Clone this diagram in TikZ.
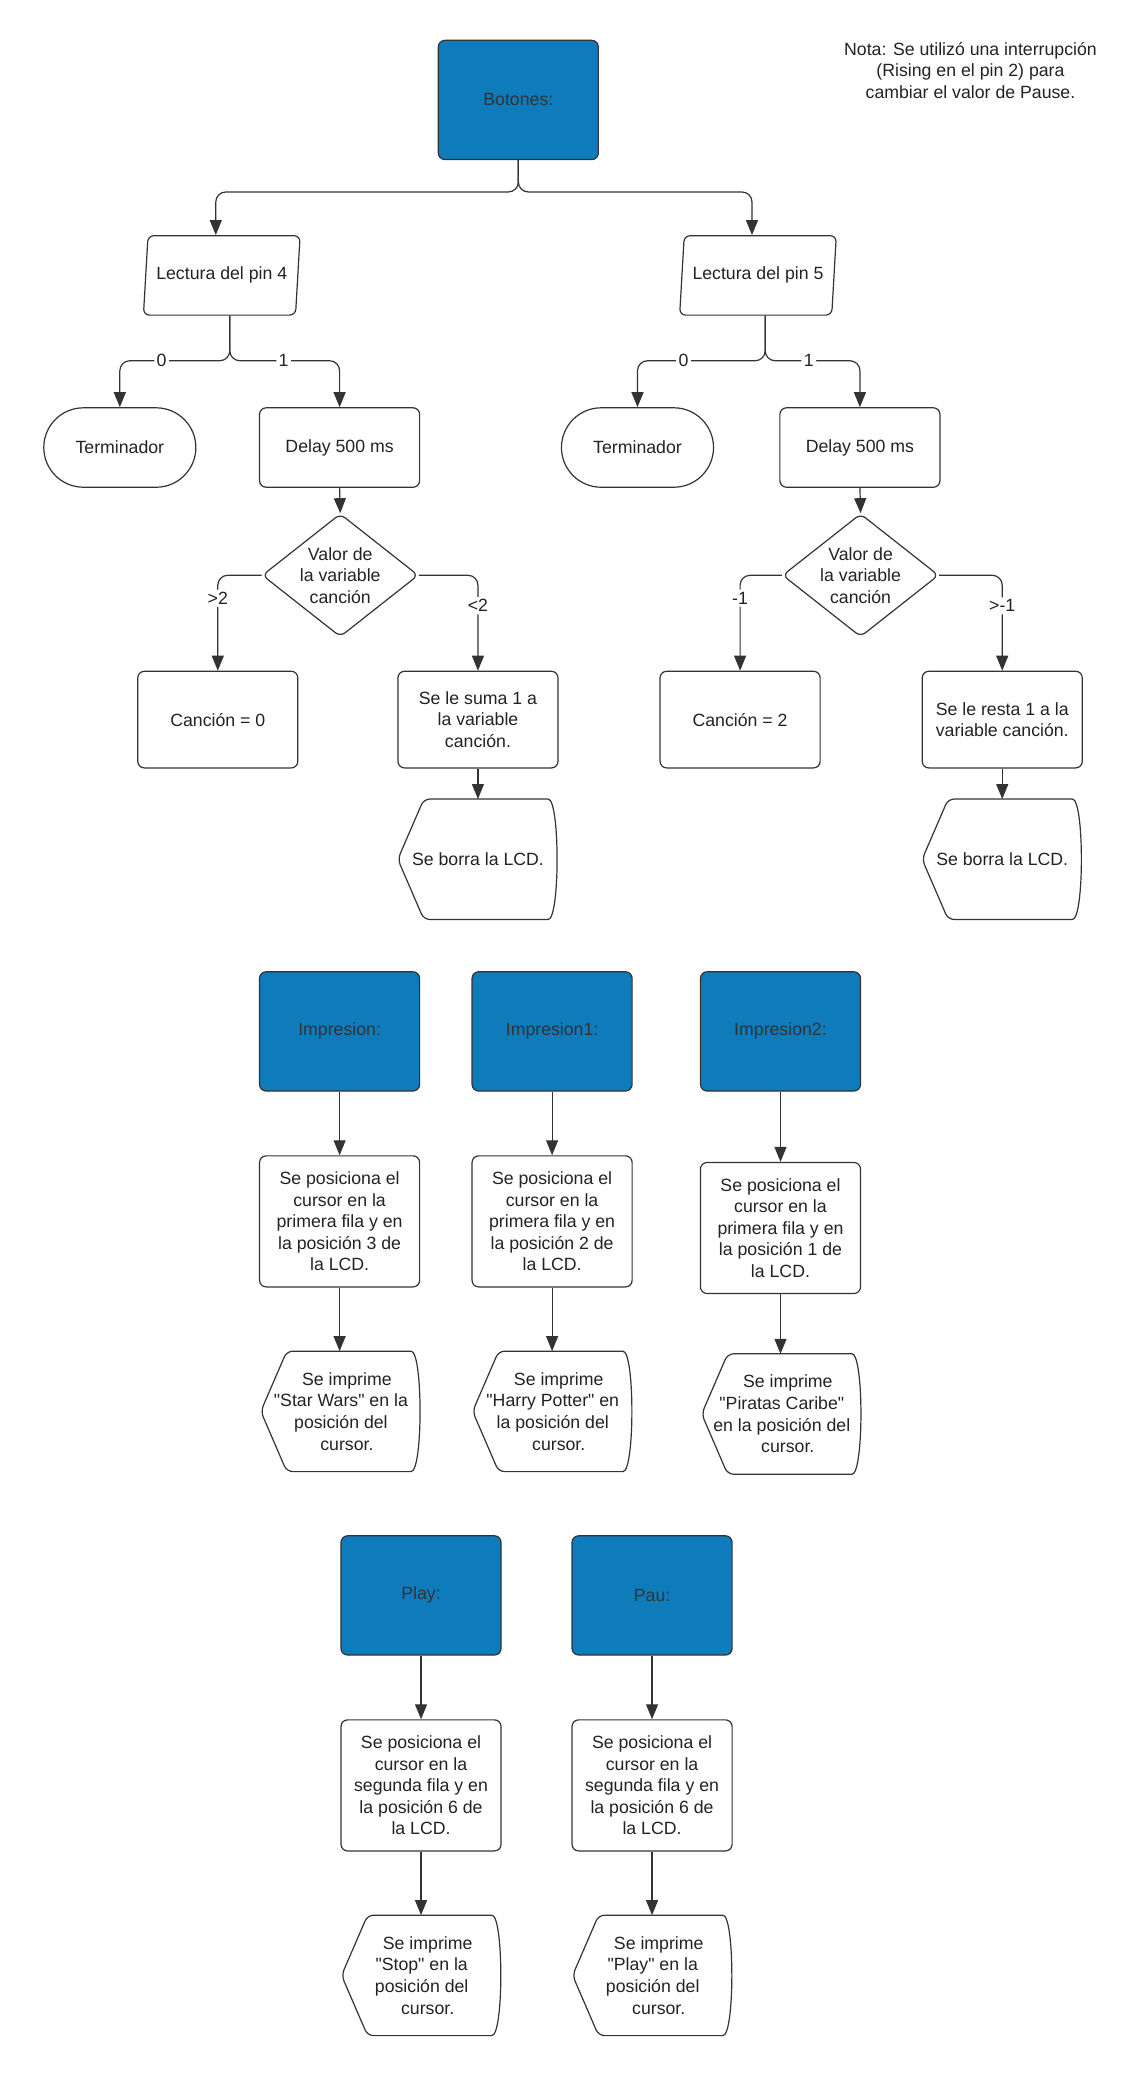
\documentclass[tikz,border=0pt]{standalone}
\usepackage{fontspec}
\setmainfont{Liberation Sans}[Ligatures=TeXOff]
\usetikzlibrary{positioning, arrows.meta, shapes.geometric, shapes.misc, calc}
\definecolor{cHead}{HTML}{0E7BBB}
\definecolor{cLine}{HTML}{333333}
\definecolor{cText}{HTML}{222222}

\tikzset{
  base/.style={draw=cLine, line width=0.6pt, text=cText, align=center,
    font=\fontsize{8.85}{10.8}\selectfont, inner sep=2pt},
  headbox/.style={base, fill=cHead, rounded corners=3.3pt, minimum width=80pt,
    minimum height=59.6pt, text=cLine},
  procbox/.style={base, rounded corners=3.3pt, minimum width=80pt, minimum height=#1},
  procbox/.default=48.3pt,
  iobox/.style={base, trapezium, trapezium left angle=80, trapezium right angle=100,
    trapezium stretches=true, rounded corners=3pt, minimum width=78.7pt, minimum height=39.7pt},
  termbox/.style={base, rounded rectangle, minimum width=80pt, minimum height=39.7pt},
  decbox/.style={base, diamond, aspect=1.27, inner sep=0pt, rounded corners=3pt,
    minimum width=78pt, minimum height=61.5pt},
  dispbox/.style={base, draw=none, minimum width=79.5pt, minimum height=59.6pt},
  conn/.style={draw=cLine, line width=0.6pt, rounded corners=5pt,
    -{Triangle[length=7.5pt,width=6pt]}},
  lbl/.style={fill=white, inner sep=1.2pt, text=cText, align=center,
    font=\fontsize{8.85}{10.8}\selectfont},
}

% outline of a display symbol round a named node
\newcommand{\dispshape}[1]{%
  \draw[draw=cLine, line width=0.6pt, rounded corners=3pt]
    (#1.west) -- ([xshift=13pt]#1.north west) -- ([xshift=-8pt]#1.north east)
    .. controls ([xshift=1pt]#1.north east) and ([xshift=1pt]#1.south east)
    .. ([xshift=-8pt]#1.south east)
    -- ([xshift=13pt]#1.south west) -- cycle;}

\begin{document}
\begin{tikzpicture}[x=0.6617pt, y=-0.6617pt]
\useasboundingbox (0,0) rectangle (860,1568);

% Botones
\node[headbox] (bot) at (391.5,75.5) {Botones:};
\node[lbl, fill=none] (nota) at (733,53)
  {Nota: Se utilizó una interrupción\\(Rising en el pin 2) para\\cambiar el valor de Pause.};

\node[iobox] (lect4) at (167.5,208) {Lectura del pin 4};
\node[iobox] (lect5) at (572.5,208) {Lectura del pin 5};
\draw[conn] (bot.south) -- ++(0,24) -| ([xshift=-3pt]lect4.north);
\draw[conn] (bot.south) -- ++(0,24) -| ([xshift=-3pt]lect5.north);

\node[termbox] (term4) at (90.5,338) {Terminador};
\node[procbox=39.7pt] (del4) at (256.5,338) {Delay 500 ms};
\node[termbox] (term5) at (481.5,338) {Terminador};
\node[procbox=39.7pt] (del5) at (649.5,338) {Delay 500 ms};
\draw[conn] ([xshift=4pt]lect4.south) -- ++(0,34) -| node[lbl, pos=0.31] {0} (term4.north);
\draw[conn] ([xshift=4pt]lect4.south) -- ++(0,34) -| node[lbl, pos=0.245] {1} (del4.north);
\draw[conn] ([xshift=3.6pt]lect5.south) -- ++(0,34) -| node[lbl, pos=0.32] {0} (term5.north);
\draw[conn] ([xshift=3.6pt]lect5.south) -- ++(0,34) -| node[lbl, pos=0.23] {1} (del5.north);

% Valor de la variable
\node[decbox] (dia4) at (257,434.5) {Valor de\\la variable\\canción};
\node[decbox] (dia5) at (650,434.5) {Valor de\\la variable\\canción};
\draw[conn] (del4.south) -- (dia4.north);
\draw[conn] (del5.south) -- (dia5.north);

\node[procbox] (c0) at (164.5,543.5) {Canción = 0};
\node[procbox] (suma) at (361,543.5) {Se le suma 1 a\\la variable\\canción.};
\node[procbox] (c2) at (559,543.5) {Canción = 2};
\node[procbox] (resta) at (757,543.5) {Se le resta 1 a la\\variable canción.};
\draw[conn] (dia4.west) -| node[lbl, pos=0.62] {>2} (c0.north);
\draw[conn] (dia4.east) -| node[lbl, pos=0.66] {<2} (suma.north);
\draw[conn] (dia5.west) -| node[lbl, pos=0.62] {-1} (c2.north);
\draw[conn] (dia5.east) -| node[lbl, pos=0.66] {>-1} (resta.north);

\node[dispbox] (borra4) at (361,649) {Se borra la LCD.};
\node[dispbox] (borra5) at (757,649) {Se borra la LCD.};
\dispshape{borra4}
\dispshape{borra5}
\draw[conn] (suma.south) -- (borra4.north);
\draw[conn] (resta.south) -- (borra5.north);

% Impresion
\node[headbox] (imp0) at (256.5,779) {Impresion:};
\node[headbox] (imp1) at (417,779) {Impresion1:};
\node[headbox] (imp2) at (589.5,779) {Impresion2:};
\node[procbox=65.5pt] (pos0) at (256.5,922.5)
  {Se posiciona el\\cursor en la\\primera fila y en\\la posición 3 de\\la LCD.};
\node[procbox=65.5pt] (pos1) at (417,922.5)
  {Se posiciona el\\cursor en la\\primera fila y en\\la posición 2 de\\la LCD.};
\node[procbox=65.5pt] (pos2) at (589.5,927.5)
  {Se posiciona el\\cursor en la\\primera fila y en\\la posición 1 de\\la LCD.};
\node[dispbox] (prt0) at (257.5,1066)
  {\hspace*{6pt}Se imprime\\"Star Wars" en la\\posición del\\\hspace*{6pt}cursor.};
\node[dispbox] (prt1) at (417.5,1066)
  {\hspace*{6pt}Se imprime\\"Harry Potter" en\\la posición del\\\hspace*{6pt}cursor.};
\node[dispbox] (prt2) at (590.5,1068)
  {\hspace*{6pt}Se imprime\\"Piratas Caribe"\\en la posición del\\\hspace*{6pt}cursor.};
\dispshape{prt0}
\dispshape{prt1}
\dispshape{prt2}
\draw[conn] (imp0.south) -- (pos0.north);
\draw[conn] (imp1.south) -- (pos1.north);
\draw[conn] (imp2.south) -- (pos2.north);
\draw[conn] (pos0.south) -- (pos0.south |- prt0.north);
\draw[conn] (pos1.south) -- (pos1.south |- prt1.north);
\draw[conn] (pos2.south) -- (pos2.south |- prt2.north);

% Play y Pau
\node[headbox] (play) at (318,1205) {Play:};
\node[headbox] (pau) at (492.5,1205) {Pau:};
\node[procbox=65.5pt] (pos3) at (318,1348.5)
  {Se posiciona el\\cursor en la\\segunda fila y en\\la posición 6 de\\la LCD.};
\node[procbox=65.5pt] (pos4) at (492.5,1348.5)
  {Se posiciona el\\cursor en la\\segunda fila y en\\la posición 6 de\\la LCD.};
\node[dispbox] (prt3) at (318.5,1492)
  {\hspace*{6pt}Se imprime\\"Stop" en la\\posición del\\\hspace*{6pt}cursor.};
\node[dispbox] (prt4) at (493,1492)
  {\hspace*{6pt}Se imprime\\"Play" en la\\posición del\\\hspace*{6pt}cursor.};
\dispshape{prt3}
\dispshape{prt4}
\draw[conn] (play.south) -- (pos3.north);
\draw[conn] (pau.south) -- (pos4.north);
\draw[conn] (pos3.south) -- (pos3.south |- prt3.north);
\draw[conn] (pos4.south) -- (pos4.south |- prt4.north);
\end{tikzpicture}
\end{document}
